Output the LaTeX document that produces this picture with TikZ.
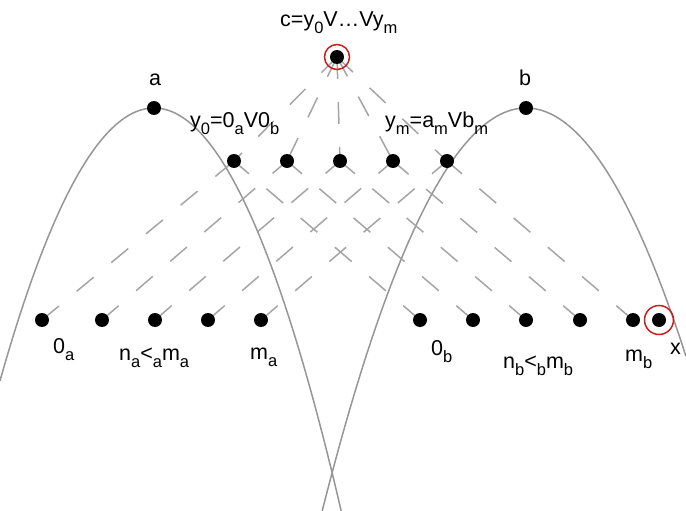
\documentclass[tikz,border=0pt]{standalone}
\usepackage{fontspec}
\setmainfont{Liberation Sans}
\usetikzlibrary{backgrounds}
\definecolor{curvegray}{RGB}{150,150,150}
\definecolor{linegray}{RGB}{165,165,165}
\definecolor{ringred}{RGB}{200,30,30}
\newcommand\subsc[1]{\raisebox{-7pt}{\fontsize{16.5}{16.5}\selectfont #1}}
\begin{document}
\begin{tikzpicture}[x=1pt,y=-1pt,
  dot/.style={circle,fill=black,inner sep=0pt,minimum size=14pt},
  ring/.style={circle,draw=ringred,line width=1.5pt,inner sep=0pt},
  lbl/.style={anchor=base west,inner sep=0pt,font=\fontsize{21.5}{24}\selectfont},
  clbl/.style={anchor=base,inner sep=0pt,font=\fontsize{21.5}{24}\selectfont},
  link/.style={draw=linegray,line width=1.5pt,dash pattern=on 22pt off 23pt},
  curve/.style={draw=curvegray,line width=1.5pt}]
\useasboundingbox (0,0) rectangle (686,511);
% nodes
\node[dot] (c) at (337,57) {};
\node[dot] (a) at (154,108) {};
\node[dot] (b) at (526,108) {};
\node[dot] (y0) at (234,161) {};
\node[dot] (y1) at (287,161) {};
\node[dot] (y2) at (340,161) {};
\node[dot] (y3) at (393,161) {};
\node[dot] (y4) at (447,161) {};
\node[dot] (a0) at (42,320) {};
\node[dot] (a1) at (102,320) {};
\node[dot] (a2) at (155,320) {};
\node[dot] (a3) at (208,320) {};
\node[dot] (a4) at (261,320) {};
\node[dot] (b0) at (420,320) {};
\node[dot] (b1) at (473,320) {};
\node[dot] (b2) at (526,320) {};
\node[dot] (b3) at (580,320) {};
\node[dot] (b4) at (633,320) {};
\node[dot] (x) at (659,320) {};
\node[ring,minimum size=25pt] (cring) at (c) {};
\node[ring,minimum size=29pt] (xring) at (x) {};
% background: curves and links
\begin{scope}[on background layer]
  \begin{scope}
    \clip (0,0) rectangle (686,511);
    \draw[curve] plot[domain=0:352,samples=120] (\x,{108+(0.10724*(\x-154))^2});
    \draw[curve] plot[domain=300:686,samples=120] (\x,{108+(0.09849*(\x-526))^2});
  \end{scope}
  \foreach \i in {0,...,4} {
    \draw[link] (c.center) -- (y\i.center);
    \draw[link] (a\i.center) -- (y\i.center);
    \draw[link] (b\i.center) -- (y\i.center);
  }
\end{scope}
% labels
\node[lbl] (lc) at (280,27) {c=y\subsc{0}V…Vy\subsc{m}};
\node[clbl] (la) at (155,86) {a};
\node[clbl] (lb) at (525,86) {b};
\node[lbl] (ly0) at (190,128) {y\subsc{0}=0\subsc{a}V0\subsc{b}};
\node[lbl] (lym) at (385,128) {y\subsc{m}=a\subsc{m}Vb\subsc{m}};
\node[lbl] (l0a) at (53,353) {0\subsc{a}};
\node[lbl] (lna) at (119,360) {n\subsc{a}<\subsc{a}m\subsc{a}};
\node[lbl] (lma) at (250,359) {m\subsc{a}};
\node[lbl] (l0b) at (431,355) {0\subsc{b}};
\node[lbl] (lnb) at (503,368) {n\subsc{b}<\subsc{b}m\subsc{b}};
\node[lbl] (lmb) at (625,361) {m\subsc{b}};
\node[lbl] (lx) at (670,354) {x};
\end{tikzpicture}
\end{document}
